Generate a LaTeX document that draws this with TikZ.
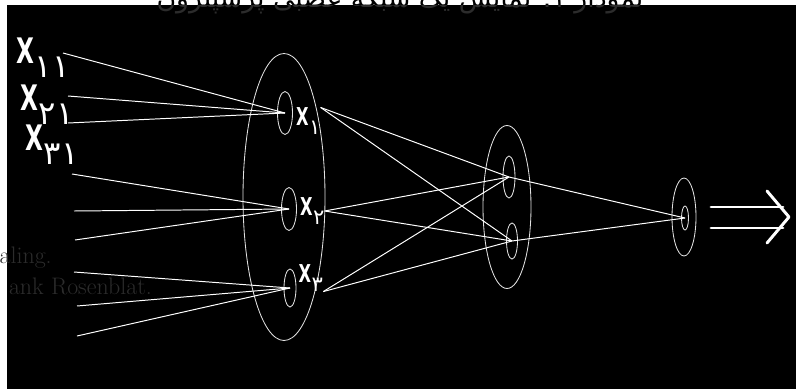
\documentclass[tikz,border=0pt]{standalone}
\usepackage{graphicx}
\usepackage{fontspec}
\usetikzlibrary{%
	positioning,%
	shapes.geometric,%
}
\TeXXeTstate=1
\newfontfamily\arabicfont[Script=Arabic]{DejaVu Sans}
\newfontfamily\labelfont{DejaVu Sans}
\definecolor{ghostgray}{RGB}{44, 44, 44}
\definecolor{ringgray}{RGB}{225, 225, 225}
\newcommand{\pxu}{0.025cm}
\newcommand{\xlab}[1]{\scalebox{0.66}[1]{X}\kern0.02em\raisebox{\sublower}{\subfont\mdseries #1}}
\tikzset{%
	layer/.style={%
			draw=ringgray,%
			ellipse,%
			line width=0.6pt,%
			inner sep=0},%
	unit/.style={%
			draw=ringgray,%
			ellipse,%
			line width=0.6pt,%
			inner sep=0},%
	link/.style={%
			draw=white,%
			line width=0.7pt},%
	inlabel/.style={%
			text=white,%
			inner sep=0,%
			font={\labelfont\bfseries\fontsize{25}{25}\selectfont\def\subfont{\fontsize{23}{23}\selectfont}\def\sublower{-0.42em}}},%
	hidlabel/.style={%
			text=white,%
			inner sep=0,%
			font={\labelfont\bfseries\fontsize{17.5}{17.5}\selectfont\def\subfont{\fontsize{15}{15}\selectfont}\def\sublower{-0.35em}}},%
	ghost/.style={%
			text=ghostgray,%
			inner sep=0,%
			font={\fontsize{17}{19}\selectfont}},%
	bigarrow/.style={%
			draw=white,%
			line width=2.1pt,%
			line cap=round,%
			line join=round},%
}

\begin{document}
\begin{tikzpicture}[x=\pxu, y=-\pxu]%
	\useasboundingbox (0,0) rectangle (796,389);
	\fill[black] (7,5) rectangle (796,389);

	\begin{scope}
		\clip (0,0) rectangle (796,389);
		\node[ghost, anchor=base east] (ghost1) at (52,263) {aling.};
		\node[ghost, anchor=base east] (ghost2) at (152,294) {ank Rosenblat.};
	\end{scope}

	\begin{scope}
		\clip (0,0) rectangle (796,5);
		\node[inner sep=0, text=black, anchor=base, font={\fontsize{19}{19}\selectfont}] (title) at (400,7)
		{\arabicfont\beginR نمودار ۱: نمایش یک شبکه عصبی پرسپترون\endR};
	\end{scope}
	\begin{scope}
		\clip (7,5) rectangle (796,389);
		\node[inner sep=0, text=ghostgray, anchor=base, font={\fontsize{19}{19}\selectfont}] (titleshade) at (400,7)
		{\arabicfont\beginR نمودار ۱: نمایش یک شبکه عصبی پرسپترون\endR};
	\end{scope}

	\node[layer, minimum width=82*\pxu, minimum height=287*\pxu] (layer1) at (284,197) {};
	\node[unit, minimum width=15*\pxu, minimum height=43*\pxu] (n1) at (285,113) {};
	\node[unit, minimum width=15*\pxu, minimum height=43*\pxu] (n2) at (289,209) {};
	\node[unit, minimum width=12*\pxu, minimum height=38*\pxu] (n3) at (290,288) {};

	\node[layer, minimum width=48*\pxu, minimum height=163*\pxu] (layer2) at (507,207) {};
	\node[unit, minimum width=12*\pxu, minimum height=42*\pxu] (h1) at (509,177) {};
	\node[unit, minimum width=11*\pxu, minimum height=36*\pxu] (h2) at (512,241) {};

	\node[layer, minimum width=24*\pxu, minimum height=78*\pxu] (layer3) at (684,217) {};
	\node[unit, minimum width=7*\pxu, minimum height=24*\pxu] (o1) at (685,218) {};

	\node[inlabel, anchor=base west] (x11) at (16,63) {\xlab{۱۱}};
	\node[inlabel, anchor=base west] (x21) at (20,110) {\xlab{۲۱}};
	\node[inlabel, anchor=base west] (x31) at (25,150) {\xlab{۳۱}};

	\node[hidlabel, yshift=-0.2cm] (l1) [right=0.07cm of n1] {\xlab{۱}};
	\node[hidlabel, yshift=-0.05cm] (l2) [right=0.07cm of n2] {\xlab{۲}};
	\node[hidlabel, yshift=0.25cm] (l3) [right=0.05cm of n3] {\xlab{۳}};

	\foreach \i/\xx/\yy/\to in {1/63/53/n1, 2/68/96/n1, 3/68/123/n1,
			4/72/174/n2, 5/74/211/n2, 6/75/240/n2,
			7/74/272/n3, 8/77/306/n3, 9/77/336/n3} {
			\coordinate (in\i) at (\xx,\yy);
			\draw[link] (in\i) -- (\to.center);
		}

	\draw[link] (l1.north east) -- (h1.center);
	\draw[link] (l1.north east) -- (h2.center);
	\draw[link] (l2.east) -- (h1.center);
	\draw[link] (l2.east) -- (h2.center);
	\draw[link] (l3.south east) -- (h1.center);
	\draw[link] (l3.south east) -- (h2.center);
	\draw[link] (h1.center) -- (o1.center);
	\draw[link] (h2.center) -- (o1.center);

	\coordinate (arr) at (711,217);
	\draw[bigarrow] ([shift={(0,-10)}]arr) -- ([shift={(72,-10)}]arr);
	\draw[bigarrow] ([shift={(0,11)}]arr) -- ([shift={(72,11)}]arr);
	\draw[bigarrow] ([shift={(56,-26)}]arr) -- ([shift={(78,0)}]arr) -- ([shift={(56,26)}]arr);
\end{tikzpicture}
\end{document}
